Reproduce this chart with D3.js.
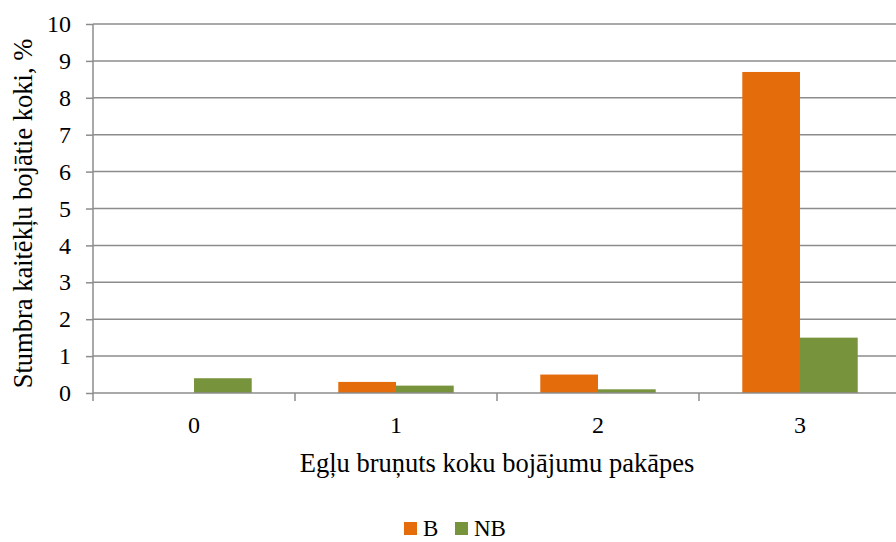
<!DOCTYPE html>
<html lang="lv">
<head>
<meta charset="utf-8">
<script src="https://d3js.org/d3.v7.min.js"></script>
<style>
  body { margin: 0; background: white; }
  svg { font-family: "Liberation Serif", "Times New Roman", serif; }
  .grid line, .axis line, .axis path { stroke: #8c8c8c; stroke-width: 1.5; }
</style>
</head>
<body>
<svg width="896" height="542"></svg>
<script>
// data
const categories = ["0", "1", "2", "3"]
const seriesNames = ["B", "NB"]
const valuesB = [0, 0.3, 0.5, 8.7]
const valuesNB = [0.4, 0.2, 0.1, 1.5]
const yTicks = [0, 1, 2, 3, 4, 5, 6, 7, 8, 9, 10]
const colors = ["#E46C0A", "#77933C"]

const serif = '"Liberation Serif", "Times New Roman", serif'
const width = 896
const height = 542
// plot area runs a little past the right edge of the picture
const margin = { top: 24, bottom: 149, left: 93, right: -5 }

const svg = d3.select("svg")

const x = d3.scaleBand()
  .domain(categories)
  .range([margin.left, width - margin.right])
  .paddingInner(0).paddingOuter(0)

// gap width 150% -> 0.75 of a bar on each side
const xInner = d3.scaleBand()
  .domain(seriesNames)
  .range([0, x.bandwidth()])
  .paddingOuter(0.75)
  .paddingInner(0)

const y = d3.scaleLinear()
  .domain([0, 10])
  .range([height - margin.bottom, margin.top])

// gridlines
svg.append("g")
  .attr("class", "grid")
  .selectAll("line")
  .data(yTicks.filter(d => d > 0))
  .join("line")
  .attr("x1", margin.left)
  .attr("x2", width)
  .attr("y1", d => y(d))
  .attr("y2", d => y(d))

// bars
const rows = categories.map((c, i) => ({ cat: c, vals: [valuesB[i], valuesNB[i]] }))
svg.append("g")
  .selectAll("g")
  .data(rows)
  .join("g")
  .attr("transform", d => "translate(" + x(d.cat) + ",0)")
  .selectAll("rect")
  .data(d => d.vals.map((v, j) => ({ name: seriesNames[j], v: v, j: j })))
  .join("rect")
  .attr("x", d => xInner(d.name))
  .attr("width", xInner.bandwidth())
  .attr("y", d => y(d.v))
  .attr("height", d => y(0) - y(d.v))
  .attr("fill", d => colors[d.j])

// y axis
const yAxis = d3.axisLeft(y).tickValues(yTicks).tickSize(7).tickPadding(15).tickFormat(d3.format("d"))
svg.append("g")
  .attr("class", "axis axis-y")
  .attr("transform", "translate(" + margin.left + ",0)")
  .call(yAxis)
  .call(g => g.select(".domain").attr("d", "M0," + y(10) + "V" + (y(0) + 8)))
  .call(g => g.selectAll("text")
    .style("font-family", serif)
    .style("font-size", "24px")
    .style("fill", "#000"))

// x axis: baseline, separators between categories, labels
const xAxisG = svg.append("g")
  .attr("class", "axis axis-x")
  .attr("transform", "translate(0," + y(0) + ")")
xAxisG.append("line")
  .attr("x1", margin.left).attr("x2", width)
  .attr("y1", 0).attr("y2", 0)
xAxisG.selectAll("line.sep")
  .data(categories.slice(1))
  .join("line")
  .attr("class", "sep")
  .attr("x1", d => x(d)).attr("x2", d => x(d))
  .attr("y1", 0).attr("y2", 8)
xAxisG.selectAll("text")
  .data(categories)
  .join("text")
  .attr("x", d => x(d) + x.bandwidth() / 2)
  .attr("y", 40)
  .attr("text-anchor", "middle")
  .style("font-family", serif)
  .style("font-size", "24px")
  .text(d => d)

// axis titles
svg.append("text")
  .attr("x", (margin.left + width - margin.right) / 2)
  .attr("y", 472)
  .attr("text-anchor", "middle")
  .style("font-size", "26.5px")
  .text("Egļu bruņuts koku bojājumu pakāpes")

svg.append("text")
  .attr("transform", "translate(32," + ((y(0) + y(10)) / 2 + 5) + ") rotate(-90)")
  .attr("text-anchor", "middle")
  .style("font-size", "26.5px")
  .text("Stumbra kaitēkļu bojātie koki, %")

// legend
const legendItems = [{ name: "B", x: 404 }, { name: "NB", x: 455 }]
const legend = svg.append("g").attr("class", "legend")
legendItems.forEach((d, i) => {
  legend.append("rect")
    .attr("x", d.x).attr("y", 522)
    .attr("width", 13).attr("height", 13)
    .attr("fill", colors[i])
  legend.append("text")
    .attr("x", d.x + 19).attr("y", 536)
    .style("font-size", "23px")
    .text(d.name)
})
</script>
</body>
</html>
